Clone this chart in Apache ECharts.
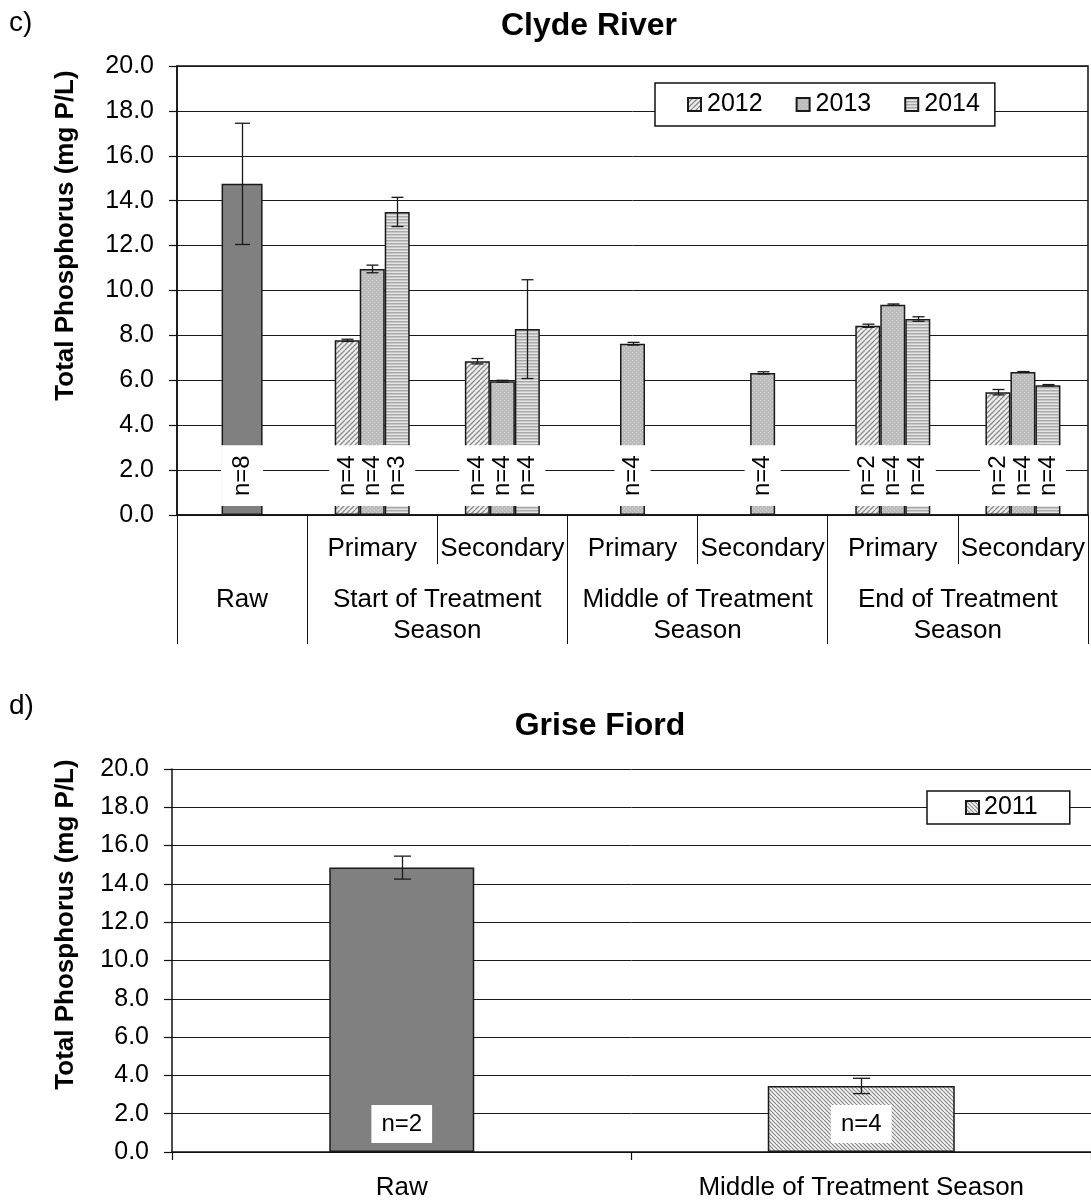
<!DOCTYPE html>
<html>
<head>
<meta charset="utf-8">
<script src="https://cdn.jsdelivr.net/npm/echarts@6/dist/echarts.min.js"></script>
<style>
  html, body { margin: 0; padding: 0; background: #fff; }
  #chart { width: 1091px; height: 1202px; }
</style>
</head>
<body>
<div id="chart"></div>
<script>
// ---------------- DATA ----------------
// Panel c) Clyde River
const clydeCategories = ['Raw', 'Primary', 'Secondary', 'Primary', 'Secondary', 'Primary', 'Secondary'];
const clydeSeasons = ['Raw', 'Start of Treatment\nSeason', 'Middle of Treatment\nSeason', 'End of Treatment\nSeason'];
const clydeSeasonSpans = [1, 2, 2, 2];
const clydeRaw     = [14.75, null, null, null, null, null, null];
const clydeRawErr  = [2.70, null, null, null, null, null, null];
const clydeRawN    = [8, null, null, null, null, null, null];
const clyde2012    = [null, 7.78, 6.85, null, null, 8.43, 5.47];
const clyde2012Err = [null, 0.05, 0.12, null, null, 0.07, 0.12];
const clyde2012N   = [null, 4, 4, null, null, 2, 2];
const clyde2013    = [null, 10.96, 5.96, 7.63, 6.33, 9.37, 6.37];
const clyde2013Err = [null, 0.17, 0.04, 0.06, 0.05, 0.03, 0.02];
const clyde2013N   = [null, 4, 4, 4, 4, 4, 4];
const clyde2014    = [null, 13.50, 8.28, null, null, 8.73, 5.78];
const clyde2014Err = [null, 0.65, 2.20, null, null, 0.10, 0.03];
const clyde2014N   = [null, 3, 4, null, null, 4, 4];

// Panel d) Grise Fiord
const griseCategories = ['Raw', 'Middle of Treatment Season'];
const griseRaw     = [14.85, null];
const griseRawErr  = [0.60, null];
const griseRawN    = [2, null];
const grise2011    = [null, 3.45];
const grise2011Err = [null, 0.40];
const grise2011N   = [null, 4];

const yMin = 0, yMax = 20, yStep = 2;

// ---------------- STYLE HELPERS ----------------
const FONT = '"Liberation Sans", Arial, Helvetica, sans-serif';

function makePattern(draw, w, h) {
  const c = document.createElement('canvas');
  c.width = w; c.height = h;
  const ctx = c.getContext('2d');
  draw(ctx, w, h);
  return { image: c, repeat: 'repeat' };
}
const pat2012 = makePattern((ctx, w, h) => {
  ctx.fillStyle = '#efefef'; ctx.fillRect(0, 0, w, h);
  ctx.strokeStyle = '#8c8c8c'; ctx.lineWidth = 1.3;
  for (let k = -h; k < w + h; k += 5) {
    ctx.beginPath(); ctx.moveTo(k, h); ctx.lineTo(k + h, 0); ctx.stroke();
  }
}, 10, 10);
const pat2013 = makePattern((ctx, w, h) => {
  ctx.fillStyle = '#bcbcbc'; ctx.fillRect(0, 0, w, h);
  ctx.fillStyle = '#d2d2d2';
  ctx.fillRect(0, 0, 1, 1); ctx.fillRect(2, 2, 1, 1);
}, 4, 4);
const pat2014 = makePattern((ctx, w, h) => {
  ctx.fillStyle = '#e4e4e4'; ctx.fillRect(0, 0, w, h);
  ctx.fillStyle = '#a9a9a9'; ctx.fillRect(0, 0, w, 1.5);
}, 4, 3);
const pat2011 = makePattern((ctx, w, h) => {
  ctx.fillStyle = '#f4f4f4'; ctx.fillRect(0, 0, w, h);
  ctx.strokeStyle = '#8a8a8a'; ctx.lineWidth = 1.2;
  for (let k = -h; k < w + h; k += 4) {
    ctx.beginPath(); ctx.moveTo(k, 0); ctx.lineTo(k + h, h); ctx.stroke();
  }
}, 8, 8);
const RAW_COLOR = '#808080';
const BORDER = { borderColor: '#1a1a1a', borderWidth: 1.5 };

function nLabel(nArr, rotated, pad) {
  const base = {
    show: true,
    position: 'insideBottom',
    distance: 9,
    fontFamily: FONT,
    fontSize: 24,
    color: '#000',
    backgroundColor: '#fff',
    padding: pad,
    formatter: p => (nArr[p.dataIndex] != null ? 'n=' + nArr[p.dataIndex] : '')
  };
  if (rotated) Object.assign(base, { rotate: 90, align: 'left', verticalAlign: 'middle' });
  return base;
}

function errData(vals, errs) {
  return vals.map((v, i) => (v == null ? null : [i, v, errs[i]])).filter(Boolean);
}
function errSeries(vals, errs, xIdx, yIdx, offsetPx, capW) {
  return {
    type: 'custom',
    xAxisIndex: xIdx, yAxisIndex: yIdx,
    silent: true, z: 6,
    encode: { x: 0, y: 1 },
    data: errData(vals, errs),
    renderItem: (params, api) => {
      const i = api.value(0), v = api.value(1), e = api.value(2);
      const p1 = api.coord([i, v + e]);
      const p2 = api.coord([i, v - e]);
      const x = Math.round(p1[0] + offsetPx) + 0.5;
      const st = { stroke: '#1a1a1a', lineWidth: 1.3 };
      return {
        type: 'group',
        children: [
          { type: 'line', shape: { x1: x, y1: p1[1], x2: x, y2: p2[1] }, style: st },
          { type: 'line', shape: { x1: x - capW / 2, y1: p1[1], x2: x + capW / 2, y2: p1[1] }, style: st },
          { type: 'line', shape: { x1: x - capW / 2, y1: p2[1], x2: x + capW / 2, y2: p2[1] }, style: st }
        ]
      };
    }
  };
}

// season axis slots (15 points = half-category resolution)
const seasonSlots = new Array(clydeCategories.length * 2 + 1).fill('');
const seasonTickSlots = [0];
let cum = 0;
clydeSeasons.forEach((s, k) => {
  seasonSlots[2 * cum + clydeSeasonSpans[k]] = s;
  cum += clydeSeasonSpans[k];
  seasonTickSlots.push(2 * cum);
});

function yAxisCfg(gridIndex, nameGap, shiftUp) {
  return {
    type: 'value', gridIndex, min: yMin, max: yMax, interval: yStep,
    axisLine: { show: true, lineStyle: { color: '#111', width: 1.5 } },
    axisTick: { show: true, length: 8, lineStyle: { color: '#111', width: 1.2 } },
    axisLabel: { formatter: v => v.toFixed(1), fontFamily: FONT, fontSize: 25, color: '#000', margin: 23 },
    splitLine: { show: true, lineStyle: { color: '#1a1a1a', width: 1 } },
    name: 'Total Phosphorus (mg P/L)',
    nameLocation: 'middle',
    nameGap,
    nameTextStyle: { fontFamily: FONT, fontSize: 26, fontWeight: 'bold', color: '#000', padding: [0, 0, 0, shiftUp * 2] }
  };
}

const option = {
  animation: false,
  backgroundColor: '#fff',
  textStyle: { fontFamily: FONT },
  graphic: [
    { type: 'text', x: 9, y: 23, style: { text: 'c)', font: '28px ' + FONT, fill: '#000', verticalAlign: 'middle', textVerticalAlign: 'middle' } },
    { type: 'text', x: 589, y: 26, style: { text: 'Clyde River', font: 'bold 32px ' + FONT, fill: '#000', align: 'center', textAlign: 'center', verticalAlign: 'middle', textVerticalAlign: 'middle' } },
    { type: 'text', x: 9, y: 706, style: { text: 'd)', font: '28px ' + FONT, fill: '#000', verticalAlign: 'middle', textVerticalAlign: 'middle' } },
    { type: 'text', x: 600, y: 726, style: { text: 'Grise Fiord', font: 'bold 32px ' + FONT, fill: '#000', align: 'center', textAlign: 'center', verticalAlign: 'middle', textVerticalAlign: 'middle' } }
  ],
  grid: [
    { left: 177, right: 3, top: 66, height: 449, show: true, borderColor: '#111', borderWidth: 1.5, backgroundColor: 'transparent' },
    { left: 172, width: 923, top: 769, height: 383 }
  ],
  legend: [
    {
      data: ['2012', '2013', '2014'],
      left: 655, top: 83,
      orient: 'horizontal',
      backgroundColor: '#fff', borderColor: '#111', borderWidth: 1.5, borderRadius: 0,
      padding: [9, 15, 9, 32],
      itemGap: 33, itemWidth: 13, itemHeight: 13,
      icon: 'rect',
      textStyle: { fontFamily: FONT, fontSize: 25, color: '#000', padding: [0, 0, 0, 1] },
      selectedMode: false
    },
    {
      data: ['2011'],
      left: 927, top: 791,
      backgroundColor: '#fff', borderColor: '#111', borderWidth: 1.5, borderRadius: 0,
      padding: [4, 32, 4, 38],
      itemWidth: 13, itemHeight: 13,
      icon: 'rect',
      textStyle: { fontFamily: FONT, fontSize: 25, color: '#000' },
      selectedMode: false
    }
  ],
  xAxis: [
    { // 0: sub-category axis (Primary / Secondary)
      type: 'category', gridIndex: 0, data: clydeCategories.map((c, i) => (i === 0 ? '' : c)),
      axisLine: { show: true, lineStyle: { color: '#111', width: 1.5 } },
      axisTick: { show: true, length: 49, lineStyle: { color: '#111', width: 1 } },
      axisLabel: { interval: 0, fontFamily: FONT, fontSize: 26, color: '#000', margin: 21 },
      splitLine: { show: false }
    },
    { // 1: hidden axis for Raw bar
      type: 'category', gridIndex: 0, data: clydeCategories, show: false
    },
    { // 2: season axis
      type: 'category', gridIndex: 0, data: seasonSlots, boundaryGap: false, position: 'bottom',
      axisLine: { show: false },
      axisTick: { show: true, length: 129, interval: (i) => seasonTickSlots.includes(i), lineStyle: { color: '#111', width: 1 } },
      axisLabel: { interval: 0, fontFamily: FONT, fontSize: 26, color: '#000', margin: 69, lineHeight: 31, align: 'center' },
      splitLine: { show: false }
    },
    { // 3: Grise categories (Raw)
      type: 'category', gridIndex: 1, data: griseCategories,
      axisLine: { show: true, lineStyle: { color: '#111', width: 1.5 } },
      axisTick: { show: true, length: 8, lineStyle: { color: '#111', width: 1.2 } },
      axisLabel: { interval: 0, fontFamily: FONT, fontSize: 26, color: '#000', margin: 23 },
      splitLine: { show: false }
    },
    { // 4: hidden Grise axis for 2011 bar
      type: 'category', gridIndex: 1, data: griseCategories, show: false
    }
  ],
  yAxis: [yAxisCfg(0, 98, 55), yAxisCfg(1, 93, 36)],
  series: [
    {
      name: 'Raw', type: 'bar', xAxisIndex: 1, yAxisIndex: 0, data: clydeRaw, barWidth: 41,
      itemStyle: Object.assign({ color: RAW_COLOR }, BORDER),
      label: nLabel(clydeRawN, true, [9, 10]), z: 3
    },
    {
      name: '2012', type: 'bar', xAxisIndex: 0, yAxisIndex: 0, data: clyde2012, barWidth: 25, barGap: '0%',
      itemStyle: Object.assign({ color: pat2012 }, BORDER),
      label: nLabel(clyde2012N, true, [6, 10]), z: 3
    },
    {
      name: '2013', type: 'bar', xAxisIndex: 0, yAxisIndex: 0, data: clyde2013, barWidth: 25, barGap: '0%',
      itemStyle: Object.assign({ color: pat2013 }, BORDER),
      label: nLabel(clyde2013N, true, [6, 10]), z: 3
    },
    {
      name: '2014', type: 'bar', xAxisIndex: 0, yAxisIndex: 0, data: clyde2014, barWidth: 25, barGap: '0%',
      itemStyle: Object.assign({ color: pat2014 }, BORDER),
      label: nLabel(clyde2014N, true, [6, 10]), z: 3
    },
    errSeries(clydeRaw, clydeRawErr, 1, 0, 0, 15),
    errSeries(clyde2012, clyde2012Err, 0, 0, -25, 12),
    errSeries(clyde2013, clyde2013Err, 0, 0, 0, 12),
    errSeries(clyde2014, clyde2014Err, 0, 0, 25, 12),
    {
      name: 'Raw ', type: 'bar', xAxisIndex: 3, yAxisIndex: 1, data: griseRaw, barWidth: 145,
      itemStyle: Object.assign({ color: RAW_COLOR }, BORDER),
      label: nLabel(griseRawN, false, [7, 10]), z: 3
    },
    {
      name: '2011', type: 'bar', xAxisIndex: 4, yAxisIndex: 1, data: grise2011, barWidth: 187,
      itemStyle: Object.assign({ color: pat2011 }, BORDER),
      label: nLabel(grise2011N, false, [7, 10]), z: 3
    },
    errSeries(griseRaw, griseRawErr, 3, 1, 0, 17),
    errSeries(grise2011, grise2011Err, 4, 1, 0, 17)
  ]
};

const chart = echarts.init(document.getElementById('chart'), null, { renderer: 'canvas' });
chart.setOption(option);
</script>
</body>
</html>
